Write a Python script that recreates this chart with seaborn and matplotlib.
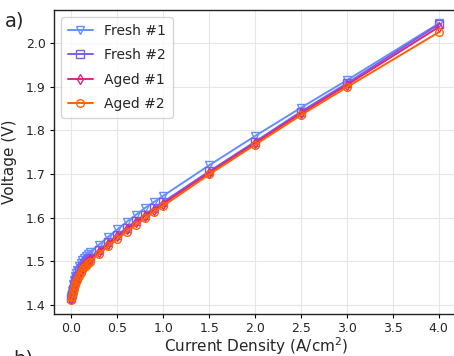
import numpy as np
import pandas as pd
import matplotlib
matplotlib.use("Agg")
import matplotlib.pyplot as plt
import seaborn as sns

# current density points (A/cm2)
current = [0.0, 0.01, 0.02, 0.03, 0.04, 0.05, 0.06, 0.08, 0.1, 0.12, 0.14, 0.16, 0.18, 0.2,
           0.3, 0.4, 0.5, 0.6, 0.7, 0.8, 0.9, 1.0, 1.5, 2.0, 2.5, 3.0, 4.0]

# cell voltages (V)
fresh1 = [1.420, 1.432, 1.447, 1.458, 1.467, 1.474, 1.480, 1.490, 1.497, 1.503, 1.508, 1.513, 1.517, 1.521,
          1.538, 1.556, 1.573, 1.590, 1.606, 1.622, 1.636, 1.650, 1.720, 1.787, 1.852, 1.915, 2.045]
fresh2 = [1.415, 1.424, 1.436, 1.446, 1.454, 1.461, 1.467, 1.477, 1.484, 1.490, 1.495, 1.500, 1.504, 1.508,
          1.526, 1.543, 1.560, 1.576, 1.592, 1.607, 1.622, 1.636, 1.706, 1.774, 1.843, 1.908, 2.043]
aged1 = [1.413, 1.422, 1.433, 1.442, 1.450, 1.457, 1.463, 1.472, 1.480, 1.486, 1.491, 1.496, 1.500, 1.504,
         1.522, 1.540, 1.557, 1.573, 1.589, 1.604, 1.618, 1.632, 1.703, 1.771, 1.839, 1.904, 2.037]
aged2 = [1.410, 1.418, 1.428, 1.437, 1.445, 1.452, 1.458, 1.467, 1.474, 1.480, 1.486, 1.490, 1.495, 1.499,
         1.517, 1.534, 1.551, 1.567, 1.583, 1.598, 1.613, 1.627, 1.699, 1.767, 1.835, 1.899, 2.025]

labels = ["Fresh #1", "Fresh #2", "Aged #1", "Aged #2"]
colors = ["#648FFF", "#785EF0", "#DC267F", "#FE6100"]
markers = ["v", "s", "d", "o"]

sns.set_theme(style="whitegrid")
plt.rcParams["font.family"] = ["DejaVu Sans"]

fig = plt.figure(figsize=(4.54, 3.56), dpi=100)
ax = fig.add_axes([0.119, 0.118, 0.89, 0.854])

for lab, vals, c, m in zip(labels, [fresh1, fresh2, aged1, aged2], colors, markers):
    df = pd.DataFrame({"x": current, "y": vals})
    sns.lineplot(data=df, x="x", y="y", ax=ax, color=c, marker=m, markersize=5.5,
                 markerfacecolor="none", markeredgecolor=c, markeredgewidth=1.0,
                 linewidth=1.4, label=lab)

ax.set_xlim(-0.19, 4.21)
ax.set_ylim(1.379, 2.076)
ax.set_xticks(np.arange(0, 4.01, 0.5))
ax.set_yticks([1.4, 1.5, 1.6, 1.7, 1.8, 1.9, 2.0])
ax.set_xlabel("Current Density (A/cm$^2$)", fontsize=11, labelpad=0)
ax.set_ylabel("Voltage (V)", fontsize=11, labelpad=6)
ax.tick_params(axis="both", labelsize=9, length=3, width=0.8, color="black", pad=3, left=True, bottom=True)
ax.grid(color="#e6e6e6", linewidth=0.8)
for s in ["left", "bottom", "top"]:
    ax.spines[s].set_color("#222222")
    ax.spines[s].set_linewidth(1.0)
ax.spines["right"].set_visible(False)

ax.legend(loc="upper left", fontsize=10, frameon=True, framealpha=0.8,
          bbox_to_anchor=(0.0, 1.0), borderpad=0.5, labelspacing=0.75, handlelength=1.8,
          handletextpad=0.8)

fig.text(0.01, 0.925, "a)", fontsize=14)
fig.text(0.03, -0.025, "b)", fontsize=14)

fig.savefig("out.png", dpi=100)
